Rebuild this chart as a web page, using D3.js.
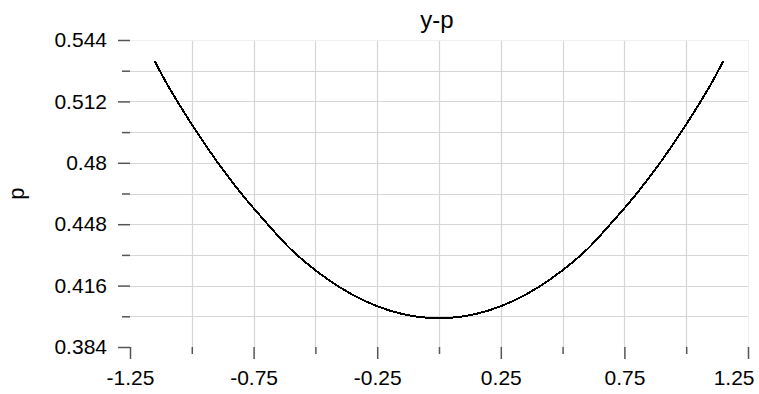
<!DOCTYPE html>
<html>
<head>
<meta charset="utf-8">
<script src="https://cdn.jsdelivr.net/npm/d3@7"></script>
<style>
  html, body { margin: 0; padding: 0; background: #fff; }
  svg { display: block; font-family: "Liberation Sans", Arial, sans-serif; }
</style>
</head>
<body>
<svg id="chart" width="759" height="394"></svg>
<script>
// y values sampled along the curve
const yValues = [-1.15, -1.1, -1.0, -0.9, -0.8, -0.7, -0.6, -0.5, -0.4, -0.3, -0.2, -0.1,
                 0.0, 0.1, 0.2, 0.3, 0.4, 0.5, 0.6, 0.7, 0.8, 0.9, 1.0, 1.1, 1.15];
// p at each y
const pValues = [0.533, 0.521, 0.500, 0.481, 0.464, 0.449, 0.435, 0.424, 0.415, 0.408, 0.403, 0.400,
                 0.399, 0.400, 0.403, 0.408, 0.415, 0.424, 0.435, 0.449, 0.464, 0.481, 0.500, 0.521, 0.533];

// axis ticks
const xLabelTicks = [-1.25, -0.75, -0.25, 0.25, 0.75, 1.25];
const xMinorTicks = [-1.0, -0.5, 0.0, 0.5, 1.0];
const yLabelTicks = [0.384, 0.416, 0.448, 0.48, 0.512, 0.544];
const yMinorTicks = [0.400, 0.432, 0.464, 0.496, 0.528];

const titleText = "y-p";
const yAxisTitle = "p";

const svg = d3.select("#chart");
const plotLeft = 130, plotRight = 748, plotTop = 40, plotBottom = 347;

const x = d3.scaleLinear().domain([-1.25, 1.25]).range([plotLeft, plotRight]);
const y = d3.scaleLinear().domain([0.384, 0.544]).range([plotBottom, plotTop]);

// grid
const grid = svg.append("g").attr("stroke", "#d6d6d6").attr("stroke-width", 1.2);
const xGrid = xLabelTicks.concat(xMinorTicks).filter(v => v > -1.25 && v < 1.25);
grid.selectAll("line.v").data(xGrid).join("line")
  .attr("x1", d => Math.round(x(d)) + 0.5).attr("x2", d => Math.round(x(d)) + 0.5)
  .attr("y1", plotTop).attr("y2", plotBottom);
const yGrid = yLabelTicks.concat(yMinorTicks).filter(v => v > 0.384 && v < 0.544);
grid.selectAll("line.h").data(yGrid).join("line")
  .attr("x1", plotLeft).attr("x2", plotRight)
  .attr("y1", d => Math.round(y(d)) + 0.5).attr("y2", d => Math.round(y(d)) + 0.5);
// faint frame edges
svg.append("g").attr("stroke", "#f0f0f0").attr("stroke-width", 1)
  .call(g => {
    g.append("line").attr("x1", plotLeft).attr("x2", plotRight).attr("y1", plotTop + 0.5).attr("y2", plotTop + 0.5);
    g.append("line").attr("x1", plotRight + 0.5).attr("x2", plotRight + 0.5).attr("y1", plotTop).attr("y2", plotBottom);
  });

const tickColor = "#555";
const fontSize = 21;

function styleAxis(g) {
  g.select(".domain").remove();
  g.selectAll(".tick line").attr("stroke", tickColor).attr("stroke-width", 1.5);
  g.selectAll(".tick text").attr("fill", "#000").style("font-size", fontSize + "px")
    .style("font-family", "Liberation Sans, Arial, sans-serif");
}

// x axis: labelled (long) and unlabelled (short) ticks
const xAxisMajor = d3.axisBottom(x).tickValues(xLabelTicks).tickSize(12).tickPadding(11)
  .tickFormat(d => d.toFixed(2));
const xAxisMinor = d3.axisBottom(x).tickValues(xMinorTicks).tickSize(7).tickFormat("");
const gxMajor = svg.append("g").attr("transform", `translate(0,${plotBottom})`).call(xAxisMajor).call(styleAxis);
svg.append("g").attr("transform", `translate(0,${plotBottom})`).call(xAxisMinor).call(styleAxis);
// keep the last label inside the canvas
gxMajor.selectAll(".tick text").filter(d => d === 1.25)
  .attr("text-anchor", "end").attr("x", 6);

// y axis
const yAxisMajor = d3.axisLeft(y).tickValues(yLabelTicks).tickSize(12).tickPadding(11)
  .tickFormat(d => String(+d.toFixed(3)));
const yAxisMinor = d3.axisLeft(y).tickValues(yMinorTicks).tickSize(8).tickFormat("");
svg.append("g").attr("transform", `translate(${plotLeft},0)`).call(yAxisMajor).call(styleAxis);
svg.append("g").attr("transform", `translate(${plotLeft},0)`).call(yAxisMinor).call(styleAxis);

// curve
const pts = yValues.map((v, i) => [v, pValues[i]]);
svg.append("path")
  .datum(pts)
  .attr("fill", "none")
  .attr("stroke", "#000")
  .attr("stroke-width", 2)
  .attr("shape-rendering", "crispEdges")
  .attr("d", d3.line().x(d => x(d[0])).y(d => y(d[1])).curve(d3.curveCatmullRom));

// titles
svg.append("text")
  .attr("x", 437).attr("y", 28)
  .attr("text-anchor", "middle")
  .style("font-size", "24px")
  .text(titleText);

svg.append("text")
  .attr("transform", `translate(24,${(plotTop + plotBottom) / 2}) rotate(-90)`)
  .attr("text-anchor", "middle")
  .style("font-size", "22px")
  .text(yAxisTitle);
</script>
</body>
</html>
